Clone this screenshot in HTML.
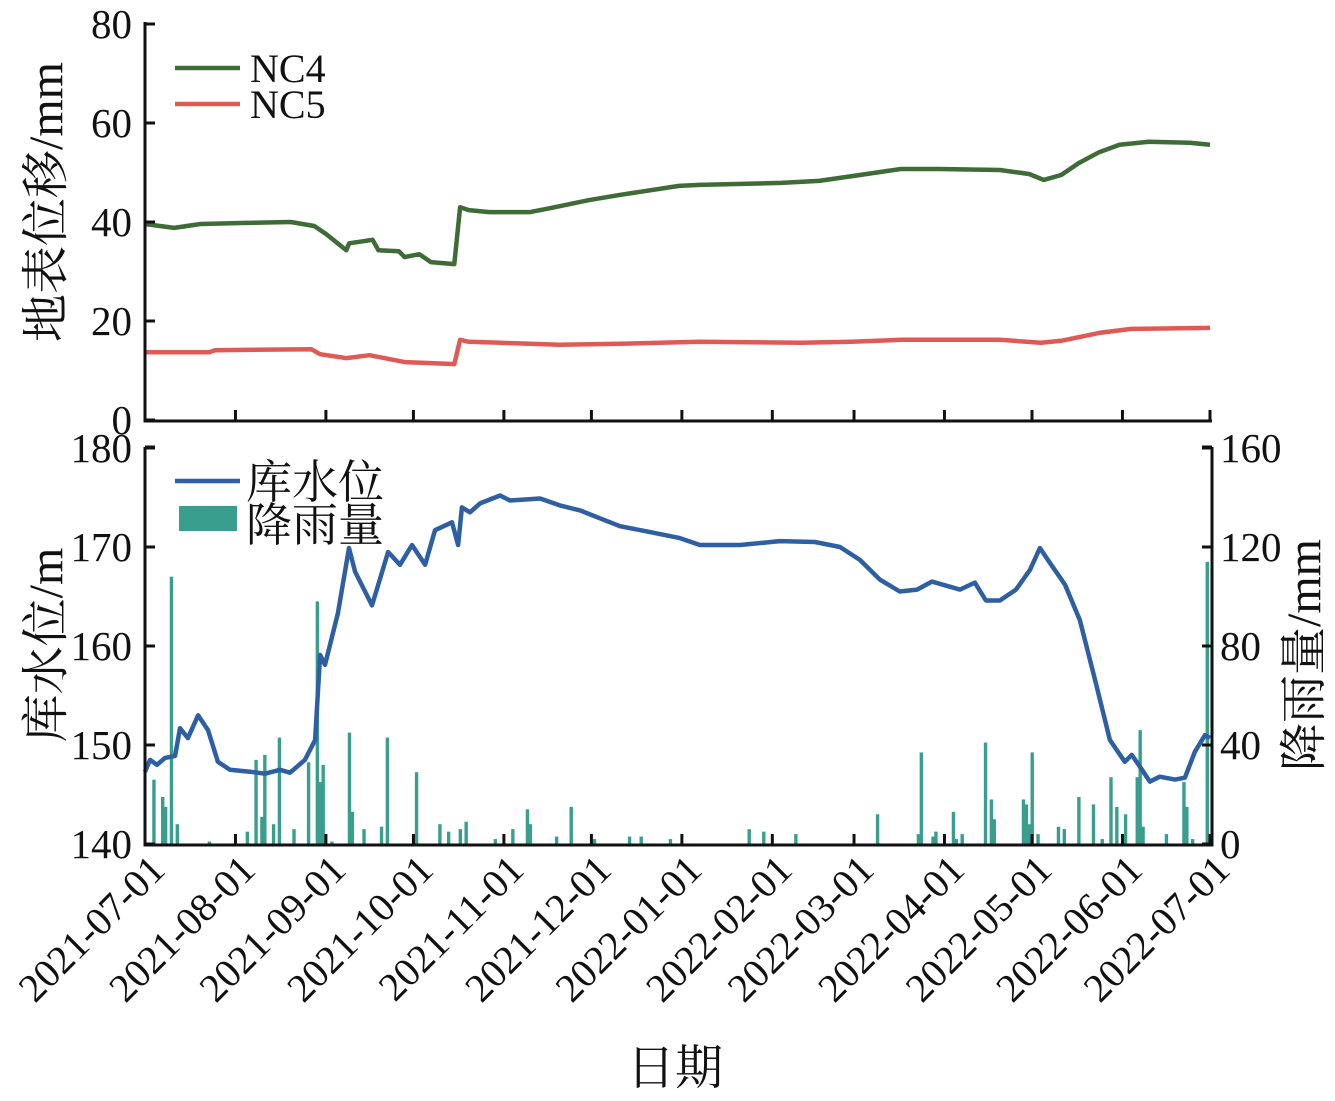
<!DOCTYPE html>
<html><head><meta charset="utf-8"><style>
body{margin:0;background:#fff}
svg{display:block;font-family:"Liberation Serif","Noto Serif CJK SC",serif}
</style></head><body>
<svg id="c" width="1335" height="1101" viewBox="0 0 1335 1101"></svg>
<script>
const xTicks=["2021-07-01","2021-08-01","2021-09-01","2021-10-01","2021-11-01","2021-12-01","2022-01-01","2022-02-01","2022-03-01","2022-04-01","2022-05-01","2022-06-01","2022-07-01"];
const xTickDays=[0,31,62,92,123,153,184,215,243,274,304,335,365];
const topTicks=[0,20,40,60,80];
const wlTicks=[140,150,160,170,180];
const rainTicks=[0,40,80,120,160];
const nc4Days=[0,10,19,33,50,58,62,69,70,78,80,87,89,94,98,106,108,111,118,132,139,152,163,183,190,218,231,245,259,272,293,303,308,314,320,327,334,344,358,365];
const nc4Vals=[39.6,38.8,39.6,39.8,40,39.2,37.6,34.3,35.7,36.4,34.3,34.1,32.9,33.5,31.9,31.5,43,42.4,42,42,42.8,44.4,45.5,47.3,47.5,47.9,48.3,49.5,50.7,50.7,50.5,49.7,48.5,49.5,51.9,54.1,55.6,56.2,56,55.6];
const nc5Days=[0,22,24,57,60,69,77,82,89,98,106,108,111,122,142,163,190,225,242,259,293,307,314,327,338,365];
const nc5Vals=[13.7,13.7,14.1,14.3,13.3,12.5,13.1,12.5,11.7,11.5,11.3,16.2,15.8,15.6,15.2,15.4,15.8,15.6,15.8,16.2,16.2,15.6,16,17.6,18.4,18.6];
const wlDays=[0,1.7,4.1,6.9,10.3,12,14.7,18.2,21.6,25,29.1,36,41.1,46.3,49.7,54.8,58.3,60,61.7,66.1,69.9,72,77.8,83.3,87.4,91.5,96,99.4,105.2,107.3,108.6,111.4,114.8,121.7,125.1,135.4,142.2,149.1,155.9,162.8,173.1,183.3,190.2,203.9,217.6,229.6,238.2,245,251.9,258.7,264.6,269.7,279.3,284.4,288.2,293,298.5,303.3,306.7,310.1,315.3,320.4,325.6,330.7,335.8,338.2,341.7,344.4,347.8,353,356.4,359.8,363.3,365];
const wlVals=[147.3,148.5,148,148.7,148.9,151.7,150.7,153,151.5,148.3,147.5,147.3,147.1,147.5,147.2,148.5,150.5,159.1,158.1,163.3,169.9,167.5,164.1,169.5,168.2,170.2,168.2,171.7,172.5,170.2,174,173.5,174.4,175.2,174.7,174.9,174.2,173.7,172.9,172.1,171.5,170.9,170.2,170.2,170.6,170.5,170,168.7,166.7,165.5,165.7,166.5,165.7,166.4,164.6,164.6,165.7,167.7,169.9,168.4,166.2,162.6,156.6,150.5,148.3,149,147.5,146.3,146.8,146.5,146.7,149.3,151,150.7];
const rainDays=[3,6,7,9,11,22,35,38,40,41,44,46,51,56,59,60,61,64,70,71,75,81,83,93,101,104,108,110,120,126,131,132,141,146,154,166,170,180,207,212,223,251,265,266,270,271,277,278,280,288,290,291,301,302,303,304,306,313,315,320,325,328,331,333,336,340,341,342,350,356,357,359,364];
const rainVals=[26,19,15,108,8,1,5,34,11,36,8,43,6,33,98,25,32,1,45,13,6,7,43,29,8,5,6,9,2,6,14,8,3,15,2,3,3,2,6,5,4,12,4,37,3,5,13,2,4,41,18,10,18,16,8,37,4,7,6,19,16,2,27,15,12,27,46,7,4,25,15,2,114];

const NS="http://www.w3.org/2000/svg";
const svg=document.getElementById('c');
const X0=145,X1=1210;
const xs=d=>X0+(X1-X0)*d/365;
const yTop=v=>420-v*(396/80);
const yWL=v=>844-(v-140)*(396/40);
const yRain=v=>844-v*(396/160);
function mk(t,a,p){const e=document.createElementNS(NS,t);for(const k in a)e.setAttribute(k,a[k]);(p||svg).appendChild(e);return e;}
function txt(s,a){const e=mk('text',a);e.textContent=s;return e;}

rainDays.forEach((d,i)=>{
  const y=yRain(rainVals[i]);
  const r=mk('rect',{x:xs(d)-1.5,y:y,width:3.4,height:844-y,fill:'#3a9e8e'});
  
  
});
function line(days,vals,fy,color,w,name){
  const p=mk('polyline',{points:days.map((d,i)=>xs(d).toFixed(1)+','+fy(vals[i]).toFixed(1)).join(' '),fill:'none',stroke:color,'stroke-width':w,'stroke-linejoin':'round'});
  
  
}
line(nc4Days,nc4Vals,yTop,'#3e6b36',4.5,'nc4-line');
line(nc5Days,nc5Vals,yTop,'#e05a55',4.5,'nc5-line');
line(wlDays,wlVals,yWL,'#2f5fa3',4.5,'water-level-line');

const ax={stroke:'#111','stroke-width':3,fill:'none'};
mk('path',Object.assign({d:'M145,22 V421 H1212'},ax));
mk('path',Object.assign({d:'M145,447 V845 H1212 V447'},ax));
mk('line',{x1:145,y1:447,x2:155,y2:447,stroke:'#111','stroke-width':3});
mk('line',{x1:1212,y1:447,x2:1202,y2:447,stroke:'#111','stroke-width':3});
topTicks.forEach(v=>{const y=yTop(v);mk('line',{x1:145,y1:y,x2:155,y2:y,stroke:'#111','stroke-width':3});
  const t=txt(v,{x:132,y:y+14,'text-anchor':'end','font-size':41,fill:'#111'});});
wlTicks.forEach(v=>{const y=yWL(v);mk('line',{x1:145,y1:y,x2:155,y2:y,stroke:'#111','stroke-width':3});
  const t=txt(v,{x:132,y:y+14,'text-anchor':'end','font-size':41,fill:'#111'});});
rainTicks.forEach(v=>{const y=yRain(v);mk('line',{x1:1212,y1:y,x2:1202,y2:y,stroke:'#111','stroke-width':3});
  const t=txt(v,{x:1220,y:y+14,'text-anchor':'start','font-size':41,fill:'#111'});});
xTickDays.forEach((d,i)=>{const x=xs(d);
  mk('line',{x1:x,y1:421,x2:x,y2:410,stroke:'#111','stroke-width':3});
  mk('line',{x1:x,y1:845,x2:x,y2:834,stroke:'#111','stroke-width':3});
  const ax2=x+22, ay=872;
  const t=txt(xTicks[i],{x:ax2,y:ay,'text-anchor':'end','font-size':40,fill:'#111',transform:`rotate(-45 ${ax2} ${ay})`});
  });
</script>
<svg width="1335" height="1101" style="position:absolute;left:0;top:0" font-family="Liberation Serif, Noto Serif CJK SC, serif">
<g>
<line x1="175" y1="68" x2="240" y2="68" stroke="#3e6b36" stroke-width="4.5"/>
<text x="250" y="82" font-size="40" fill="#111">NC4</text>
<line x1="175" y1="104" x2="240" y2="104" stroke="#e05a55" stroke-width="4.5"/>
<text x="250" y="118" font-size="40" fill="#111">NC5</text>
</g>
<g>
<line x1="175" y1="481" x2="240" y2="481" stroke="#2f5fa3" stroke-width="4.5"/>
<text x="246" y="498" font-size="46" fill="#111">库水位</text>
<rect x="179" y="506" width="58" height="25" fill="#3a9e8e"/>
<text x="246" y="541" font-size="46" fill="#111">降雨量</text>
</g>
<text transform="translate(62 202) rotate(-90)" text-anchor="middle" font-size="48" fill="#111">地表位移/mm</text>
<text transform="translate(62 645) rotate(-90)" text-anchor="middle" font-size="48" fill="#111">库水位/m</text>
<text transform="translate(1320 655) rotate(-90)" text-anchor="middle" font-size="48" fill="#111">降雨量/mm</text>
<text x="675" y="1084" text-anchor="middle" font-size="48" fill="#111">日期</text>
</svg>
</body></html>
